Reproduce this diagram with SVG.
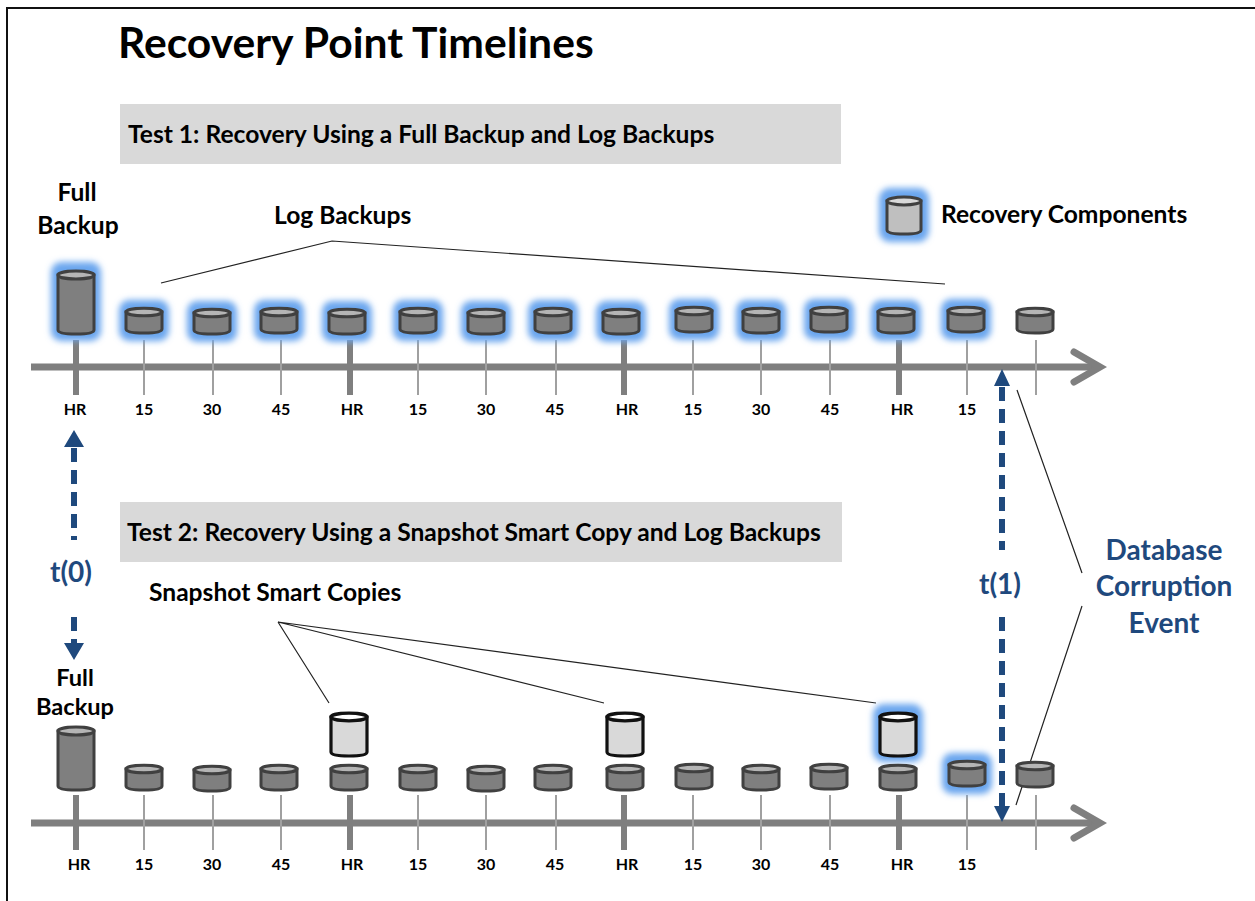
<svg xmlns="http://www.w3.org/2000/svg" width="1255" height="901" viewBox="0 0 1255 901">
<style>
text{font-family:Lato,"Liberation Sans",sans-serif;font-weight:700;fill:#000}
.h{font-size:24.6px}.l{font-size:24.6px}.t{font-size:16px;text-anchor:middle}.c{text-anchor:middle}
.b{fill:#1f497d;font-size:28px;text-anchor:middle}
.ax{stroke:#7f7f7f;stroke-width:7;fill:none}
.thin{stroke:#a0a0a0;stroke-width:2}.thick{stroke:#7f7f7f;stroke-width:6}
.lead{stroke:#222;stroke-width:1.2;fill:none}
.dash{stroke:#1f497d;stroke-width:6;stroke-dasharray:14 8;fill:none}
.glow{fill:#6aa6ee;filter:url(#blur)}
</style>
<defs>
<filter id="blur" x="-40%" y="-40%" width="180%" height="180%"><feGaussianBlur stdDeviation="3"/></filter>
<g id="gs"><rect class="glow" x="-25" y="-8" width="50" height="41" rx="10"/></g>
<g id="gb"><rect class="glow" x="-25" y="-8" width="50" height="79" rx="10"/></g>
<g id="gl"><rect class="glow" x="-25" y="-9" width="50" height="58" rx="11"/></g>
<g id="s"><path d="M-18 4V21Q-18 25 0 25Q18 25 18 21V4Z" fill="#7f7f7f" stroke="#404040" stroke-width="3"/><ellipse cx="0" cy="4" rx="18" ry="3.8" fill="#b5b5b5" stroke="#404040" stroke-width="3"/></g>
<g id="b"><path d="M-18 5V60Q-18 64 0 64Q18 64 18 60V5Z" fill="#7f7f7f" stroke="#404040" stroke-width="3"/><ellipse cx="0" cy="5" rx="18" ry="4" fill="#b5b5b5" stroke="#404040" stroke-width="3"/></g>
<g id="w"><path d="M-18 4V39Q-18 43 0 43Q18 43 18 39V4Z" fill="#d9d9d9" stroke="#111" stroke-width="3.2"/><ellipse cx="0" cy="4" rx="18" ry="3.8" fill="#fff" stroke="#111" stroke-width="3.2"/></g>
</defs>
<rect width="1255" height="901" fill="#fff"/>
<path d="M7 901V8H1255" fill="none" stroke="#111" stroke-width="2"/>
<text x="118" y="58" style="font-size:42.6px">Recovery Point Timelines</text>
<g id="banner1"><rect x="120" y="104" width="721" height="60" fill="#d9d9d9"/><text class="h" x="128" y="143">Test 1: Recovery Using a Full Backup and Log Backups</text></g>
<g id="banner2"><rect x="120" y="502" width="722" height="60" fill="#d9d9d9"/><text class="h" x="127" y="541">Test 2: Recovery Using a Snapshot Smart Copy and Log Backups</text></g>

<g id="connectors">
<path class="ax" d="M31 367H1100"/><path class="ax" d="M1074 352L1100 367L1074 382" stroke-linecap="round"/>
<path class="ax" d="M31 823H1100"/><path class="ax" d="M1074 808L1100 823L1074 838" stroke-linecap="round"/>
<g class="thick"><path d="M76 340V395M350 340V395M624 340V395M899 340V395M76 795V850M350 795V850M624 795V850M899 795V850"/></g>
<g class="thin"><path d="M144 340V395M213 340V395M281 340V395M418 340V395M486 340V395M556 340V395M693 340V395M761 340V395M830 340V395M967 340V395M1036 340V395M144 795V850M213 795V850M281 795V850M418 795V850M486 795V850M556 795V850M693 795V850M761 795V850M830 795V850M967 795V850M1036 795V850"/></g>
<path class="lead" d="M161 283L332 241L945 284M278 622L329 703M278 622L604 703M278 622L876 703M1017 390L1082 573M1082 606L1016 805"/>
<path class="dash" d="M74 448V540M74 617V645M1002 387V550M1002 617V806"/>
<path d="M64 447L74 430L84 447ZM64 643L74 660L84 643ZM994 386L1002 369L1010 386ZM994 806L1002 822L1010 806Z" fill="#1f497d"/>
</g>

<g id="timeline1-nodes">
<use href="#gb" x="76" y="270"/><use href="#b" x="76" y="270"/>
<use href="#gs" x="144" y="308"/><use href="#s" x="144" y="308"/>
<use href="#gs" x="212" y="309"/><use href="#s" x="212" y="309"/>
<use href="#gs" x="279" y="308"/><use href="#s" x="279" y="308"/>
<use href="#gs" x="347" y="309"/><use href="#s" x="347" y="309"/>
<use href="#gs" x="418" y="308"/><use href="#s" x="418" y="308"/>
<use href="#gs" x="486" y="309"/><use href="#s" x="486" y="309"/>
<use href="#gs" x="553" y="308"/><use href="#s" x="553" y="308"/>
<use href="#gs" x="621" y="309"/><use href="#s" x="621" y="309"/>
<use href="#gs" x="694" y="307"/><use href="#s" x="694" y="307"/>
<use href="#gs" x="761" y="308"/><use href="#s" x="761" y="308"/>
<use href="#gs" x="829" y="307"/><use href="#s" x="829" y="307"/>
<use href="#gs" x="896" y="308"/><use href="#s" x="896" y="308"/>
<use href="#gs" x="966" y="307"/><use href="#s" x="966" y="307"/>
<use href="#s" x="1035" y="308"/>
</g>
<g id="legend"><rect class="glow" x="879" y="188" width="50" height="54" rx="11"/><path d="M887 201V230Q887 234 904 234Q921 234 921 230V201Z" fill="#bfbfbf" stroke="#404040" stroke-width="3"/><ellipse cx="904" cy="201" rx="17" ry="4" fill="#d9d9d9" stroke="#404040" stroke-width="3"/></g>

<g id="timeline2-nodes">
<use href="#gl" x="898" y="713"/><use href="#gs" x="967" y="761"/>
<use href="#b" x="76" y="726"/>
<use href="#s" x="144" y="765"/><use href="#s" x="212" y="766"/><use href="#s" x="279" y="765"/>
<use href="#s" x="349" y="765"/><use href="#s" x="418" y="765"/><use href="#s" x="486" y="766"/>
<use href="#s" x="553" y="765"/><use href="#s" x="625" y="765"/><use href="#s" x="694" y="764"/>
<use href="#s" x="761" y="765"/><use href="#s" x="829" y="764"/><use href="#s" x="898" y="765"/>
<use href="#s" x="967" y="761"/><use href="#s" x="1035" y="762"/>
<use href="#w" x="349" y="713"/><use href="#w" x="625" y="713"/><use href="#w" x="898" y="713"/>
</g>

<g id="labels">
<text class="l c" x="77" y="201">Full<tspan x="78" y="234">Backup</tspan></text>
<text class="l" x="274" y="224">Log Backups</text>
<text class="l" x="941" y="223">Recovery Components</text>
<text class="c" x="75" y="686" style="font-size:23.6px">Full</text>
<text class="c" x="75" y="714.5" style="font-size:23.6px">Backup</text>
<text class="l" x="149" y="601">Snapshot Smart Copies</text>
<text class="b" x="71" y="582">t(0)</text><text class="b" x="1000" y="594">t(1)</text>
<text class="b" x="1164" y="560">Database</text><text class="b" x="1164" y="596">Corruption</text><text class="b" x="1164" y="633">Event</text>
<g>
<text class="t" x="75" y="415">HR</text><text class="t" x="144" y="415">15</text><text class="t" x="212" y="415">30</text><text class="t" x="281" y="415">45</text><text class="t" x="352" y="415">HR</text><text class="t" x="418" y="415">15</text><text class="t" x="486" y="415">30</text><text class="t" x="555" y="415">45</text><text class="t" x="627" y="415">HR</text><text class="t" x="693" y="415">15</text><text class="t" x="761" y="415">30</text><text class="t" x="830" y="415">45</text><text class="t" x="902" y="415">HR</text><text class="t" x="967" y="415">15</text>
<text class="t" x="79" y="870">HR</text><text class="t" x="144" y="870">15</text><text class="t" x="212" y="870">30</text><text class="t" x="281" y="870">45</text><text class="t" x="352" y="870">HR</text><text class="t" x="418" y="870">15</text><text class="t" x="486" y="870">30</text><text class="t" x="555" y="870">45</text><text class="t" x="627" y="870">HR</text><text class="t" x="693" y="870">15</text><text class="t" x="761" y="870">30</text><text class="t" x="830" y="870">45</text><text class="t" x="902" y="870">HR</text><text class="t" x="967" y="870">15</text>
</g>
</g>
</svg>
